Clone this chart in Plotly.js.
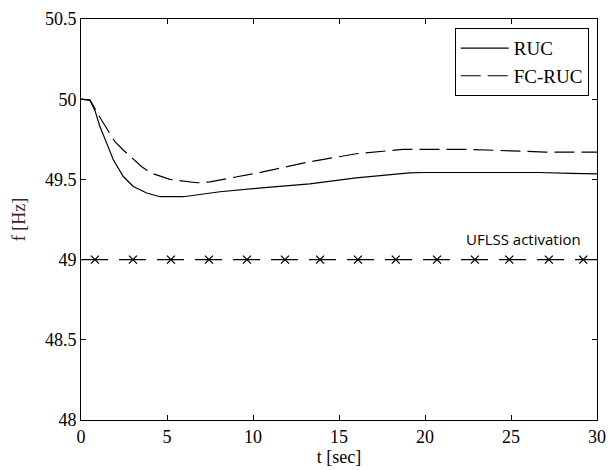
<!DOCTYPE html>
<html>
<head>
<meta charset="utf-8">
<script src="https://cdn.plot.ly/plotly-3.0.1.min.js"></script>
<style>html,body{margin:0;padding:0;background:#fff;}#chart{width:608px;height:470px;}</style>
</head>
<body>
<div id="chart"></div>
<script>
// RUC (solid)
const tRUC = [0, 0.52, 0.81, 1.1, 1.49, 1.88, 2.46, 3.04, 3.82, 4.59, 5.95, 7.5, 8.08, 10.5, 13.3, 16.0, 19.1, 20.0, 23.0, 26.6, 28.5, 29.6, 30];
const fRUC = [50, 49.994, 49.93, 49.83, 49.726, 49.622, 49.518, 49.456, 49.415, 49.392, 49.392, 49.416, 49.423, 49.447, 49.472, 49.51, 49.541, 49.543, 49.543, 49.543, 49.538, 49.535, 49.535];
// FC-RUC (dashed)
const tFC = [0, 0.52, 0.81, 1.2, 1.98, 2.46, 3.53, 4.11, 5.17, 5.76, 6.73, 7.5, 8.08, 10.5, 13.3, 16.0, 18.7, 20.0, 22.5, 25.0, 27.0, 30];
const fFC = [50, 49.994, 49.942, 49.869, 49.734, 49.683, 49.579, 49.538, 49.50, 49.492, 49.479, 49.485, 49.496, 49.545, 49.61, 49.66, 49.687, 49.688, 49.687, 49.678, 49.67, 49.67];
// UFLSS activation threshold
const tLim = [0, 30];
const fLim = [49, 49];
const tMark = [0.81, 3.02, 5.23, 7.44, 9.65, 11.86, 13.9, 16.1, 18.3, 20.7, 22.9, 24.9, 27.2, 29.2];
const fMark = [49, 49, 49, 49, 49, 49, 49, 49, 49, 49, 49, 49, 49, 49];
const xTicks = [0, 5, 10, 15, 20, 25, 30];
const yTicks = [48, 48.5, 49, 49.5, 50, 50.5];

const serif = "Liberation Serif";

const traces = [
  {x: tRUC, y: fRUC, type: 'scatter', mode: 'lines', name: 'RUC',
   line: {color: '#000', width: 1.2}},
  {x: tFC, y: fFC, type: 'scatter', mode: 'lines', name: 'FC-RUC',
   line: {color: '#000', width: 1.2, dash: '20px,7px'}},
  {x: tLim, y: fLim, type: 'scatter', mode: 'lines', showlegend: false,
   line: {color: '#000', width: 1.2, dash: '27px,11px'}},
  {x: tMark, y: fMark, type: 'scatter', mode: 'markers', showlegend: false,
   marker: {symbol: 'x-thin-open', size: 8, color: '#000', line: {color: '#000', width: 1.3}}}
];

const layout = {
  width: 608, height: 470,
  margin: {l: 81, r: 11, t: 19, b: 50},
  paper_bgcolor: '#fff', plot_bgcolor: '#fff',
  font: {family: serif, size: 18, color: '#000'},
  showlegend: true,
  legend: {x: 0.984, y: 0.977, xanchor: 'right', yanchor: 'top',
    bordercolor: '#000', borderwidth: 1, bgcolor: '#fff',
    font: {family: serif, size: 19, color: '#000'},
    itemwidth: 48},
  xaxis: {range: [0, 30], tickvals: xTicks, ticks: 'inside', ticklen: 5,
    showgrid: false, zeroline: false, showline: true, linecolor: '#000', linewidth: 1,
    mirror: 'ticks', tickcolor: '#000',
    tickfont: {family: serif, size: 18, color: '#000'},
    title: {text: 't [sec]', font: {family: serif, size: 18, color: '#000'}, standoff: 2}},
  yaxis: {range: [48, 50.5], tickvals: yTicks, ticks: 'inside', ticklen: 5,
    showgrid: false, zeroline: false, showline: true, linecolor: '#000', linewidth: 1,
    mirror: 'ticks', tickcolor: '#000',
    tickfont: {family: serif, size: 18, color: '#000'},
    title: {text: 'f [Hz]', font: {family: serif, size: 18, color: '#3a2424'}, standoff: 14}},
  annotations: [{x: 25.7, y: 49.13, xref: 'x', yref: 'y', text: 'UFLSS activation',
    showarrow: false, font: {family: 'Open Sans', size: 15, color: '#000'}}]
};

Plotly.newPlot('chart', traces, layout, {displayModeBar: false, staticPlot: true});
</script>
</body>
</html>
